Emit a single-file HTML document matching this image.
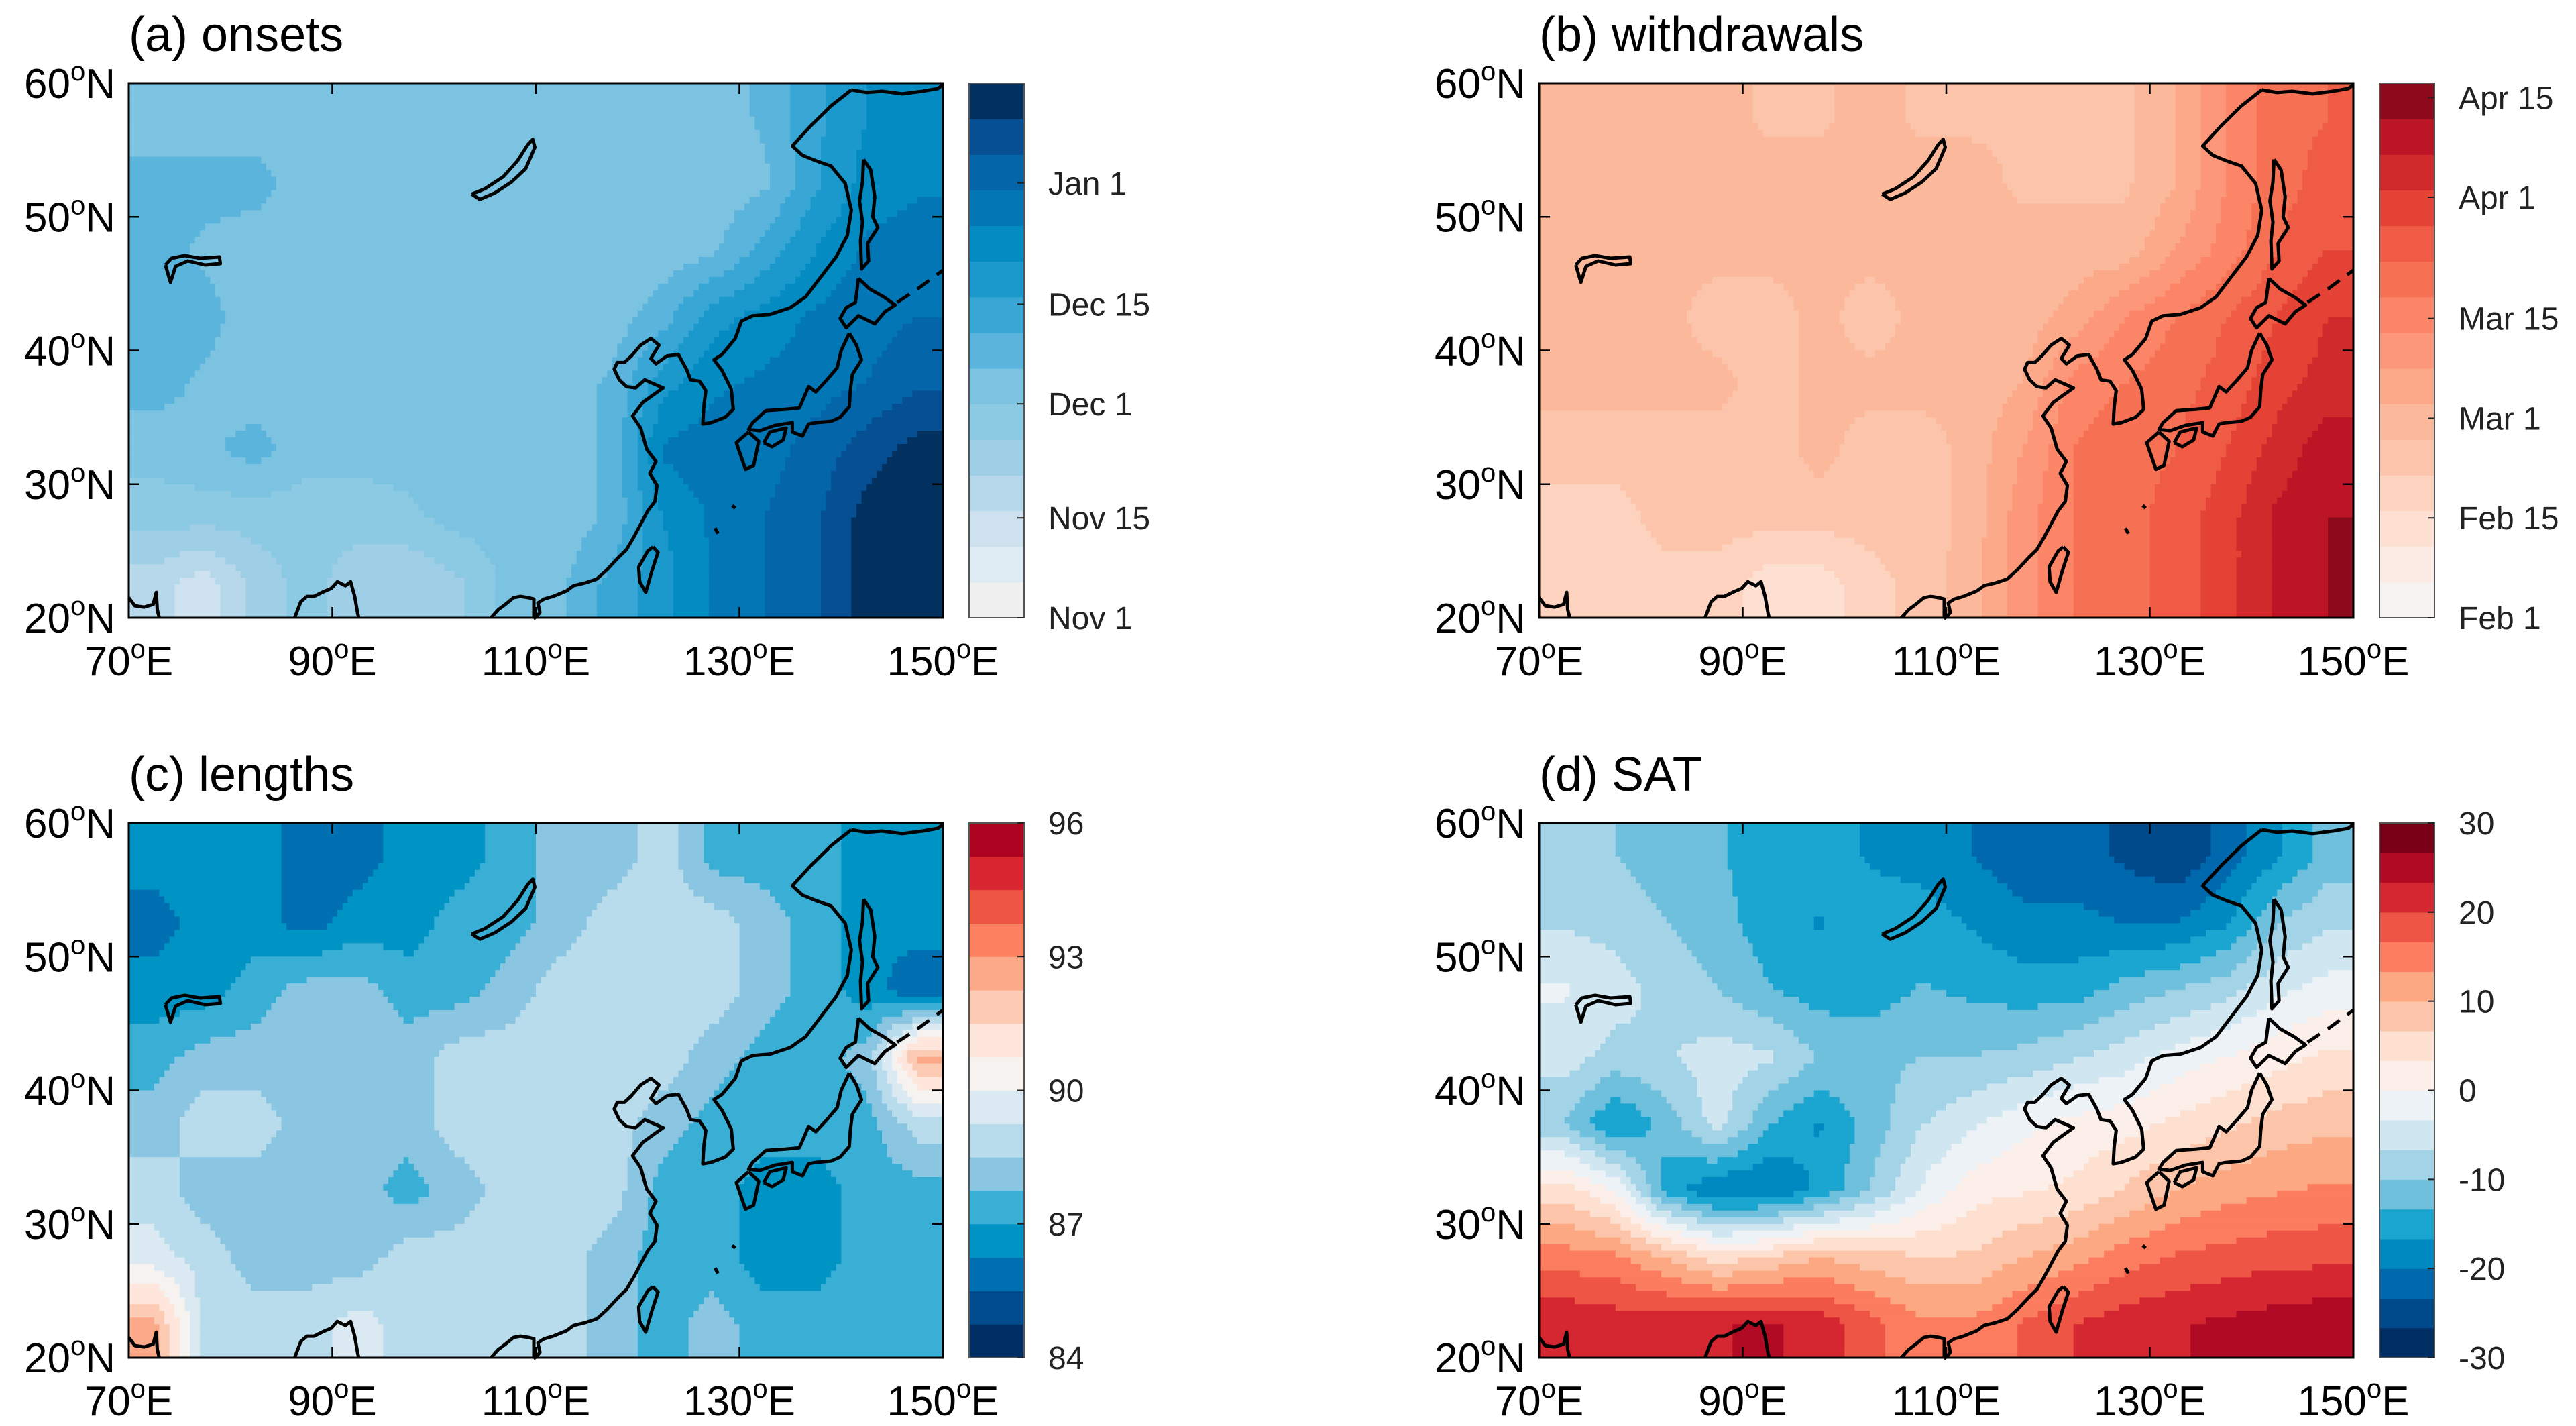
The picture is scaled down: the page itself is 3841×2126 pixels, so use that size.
<!DOCTYPE html>
<html><head><meta charset="utf-8"><style>
html,body{margin:0;padding:0;background:#fff;}
svg{display:block;font-family:"Liberation Sans",Arial,sans-serif;}
</style></head><body>
<svg id="fig" width="3841" height="2126" viewBox="0 0 3841 2126" xmlns="http://www.w3.org/2000/svg"></svg>
<script>
// ---- data (rows: lat 57.5 -> 22.5 ; cols: lon 72.5 -> 147.5, 5 deg grid) ----
const lonCenters = [72.5,77.5,82.5,87.5,92.5,97.5,102.5,107.5,112.5,117.5,122.5,127.5,132.5,137.5,142.5,147.5];
const latCenters = [57.5,52.5,47.5,42.5,37.5,32.5,27.5,22.5];
// (a) onset, days after Nov 1
const onsetValues = [
[32,32,32,32,32,32,32,32,32,32,32,32,36,44,50,52],
[37,37,37,32,32,32,32,32,32,32,32,32,34,44,52,54],
[37,34,32,32,32,32,32,32,32,32,32,34,42,50,56,58],
[37,37,32,32,32,32,32,32,32,32,38,48,52,56,58,60],
[37,34,32,32,32,32,32,32,32,36,48,54,56,58,60,64],
[32,34,37,32,32,32,32,32,32,36,56,58,58,62,68,72],
[27,27,27,27,27,29,32,32,32,36,50,56,60,64,72,74],
[17,12,22,27,22,20,24,32,34,42,48,56,60,64,72,74]];
// (b) withdrawal, days after Feb 1
const withdrawValues = [
[27,27,27,27,24,24,27,24,24,24,24,24,30,40,48,50],
[27,27,27,27,27,27,27,27,27,24,24,24,30,40,48,52],
[27,27,27,27,27,27,27,27,27,27,27,27,35,42,50,55],
[27,27,27,22,22,27,22,27,27,27,32,40,45,50,55,60],
[27,27,27,27,22,27,27,27,27,30,42,45,48,52,58,62],
[22,22,22,22,22,27,22,22,27,35,45,48,50,55,62,68],
[18,18,22,22,22,22,22,22,27,38,45,48,52,58,66,70],
[18,15,18,18,12,12,18,22,28,38,45,48,52,58,66,70]];
// (c) lengths, days
const lengthValues = [
[86.6,86.6,86.6,85.9,85.9,86.6,86.6,87.4,88.1,88.1,88.9,87.4,87.4,87.4,86.6,86.6],
[85.9,86.6,86.6,85.9,86.6,86.6,87.4,87.4,88.1,88.9,88.9,88.9,88.1,87.4,86.6,86.6],
[86.6,86.6,87.4,88.1,88.1,87.4,87.4,88.1,88.9,88.9,88.9,88.9,88.1,87.4,86.6,85.6],
[87.4,88.1,88.1,88.1,88.1,88.1,88.9,88.9,88.9,88.9,88.9,88.1,87.4,87.4,88.1,92.5],
[88.1,88.9,88.9,88.1,88.1,88.1,88.9,88.9,88.9,88.9,88.1,87.4,87.4,87.4,87.4,88.9],
[88.9,88.1,88.1,88.1,88.1,87.4,88.1,88.9,88.9,88.9,87.4,87.4,86.6,86.6,87.4,87.4],
[89.6,88.9,88.1,88.1,88.1,88.9,88.9,88.9,88.9,88.1,87.4,87.4,86.6,86.6,87.4,87.4],
[92.5,88.9,88.9,88.9,89.6,88.9,88.9,88.9,88.9,88.1,87.4,88.1,87.4,87.4,87.4,87.4]];
// (d) SAT
const satValues = [
[-10,-10,-12,-13,-15,-15,-17,-18,-20,-22,-22,-24,-26,-22,-17,-12],
[-7,-8,-10,-12,-15,-17,-15,-15,-17,-19,-19,-20,-20,-17,-10,-7],
[-3,-5,-8,-10,-13,-15,-15,-13,-14,-15,-15,-12,-10,-8,-4,-2],
[-5,-8,-7,-5,-6,-10,-11,-10,-10,-9,-7,-5,-2,0,2,4],
[-10,-17,-12,-5,-13,-17,-12,-7,-4,-1,1,2,4,6,8,9],
[5,0,-15,-20,-20,-16,-10,-3,2,3,4,7,10,12,13,14],
[15,14,10,5,7,10,8,7,7,10,12,15,17,18,19,19],
[23,22,22,23,24,22,18,14,14,17,20,22,23,24,25,26]];
const onsetTickVals = [0,14,30,44,61];
const onsetTickLabels = ["Nov 1","Nov 15","Dec 1","Dec 15","Jan 1"];
const withdrawTickVals = [0,14,28,42,59,73];
const withdrawTickLabels = ["Feb 1","Feb 15","Mar 1","Mar 15","Apr 1","Apr 15"];
const lengthTickVals = [84,87,90,93,96];
const lengthTickLabels = ["84","87","90","93","96"];
const satTickVals = [-30,-20,-10,0,10,20,30];
const satTickLabels = ["-30","-20","-10","0","10","20","30"];
const lonTicks = [70,90,110,130,150];
const latTicks = [20,30,40,50,60];

// ---- styles ----
const blues15 = ['#f0f0f0','#deebf2','#cde2ee','#b6d8ea','#9fcfe6','#8ccae4','#7bc3e0','#5ab4db','#38a7d5','#1c99cc','#048bc2','#0377b6','#0465a8','#054f92','#02305f'];
const reds15 = ['#f5f3f2','#fbebe4','#fde0d2','#fdd3bf','#fcc5ab','#fcb89b','#fca98a','#fc9779','#fb8566','#f67154','#ef5b45','#e34235','#d12a2c','#bb1526','#8c0a1c'];
const rdbu16 = ['#002d62','#004b8e','#0070b3','#0094c4','#3aafd5','#8ac6e2','#b8dcec','#dbeaf2','#f6f2f0','#fee6dc','#fdcbb3','#fca98a','#fb8161','#ef5543','#d7262f','#ad0521'];
const rdbu18 = ['#002d62','#004a8c','#0068ad','#0088c0','#1aa6d1','#6ec0dd','#a3d3e6','#d0e6f0','#ecf2f5','#fcefe9','#fde0d0','#fcc4a8','#fca883','#fb7c5e','#ee5544','#d52731','#b10a24','#7a0017'];

const NS = 'http://www.w3.org/2000/svg';
const svg = document.getElementById('fig');
function el(tag, attrs, parent){ const e=document.createElementNS(NS,tag); for(const k in attrs) e.setAttribute(k,attrs[k]); (parent||svg).appendChild(e); return e; }

const MW = 1214, MH = 797;
const coast = {
 mainland:[[141,59.5],[139,58.3],[137,56.8],[135.2,55.3],[136.2,54.6],[137.5,54.2],[139,53.8],[140.4,52.5],[141,50.5],[140.6,48.6],[139.5,47],[138,45.5],[136.5,44],[135,43.2],[133,42.7],[131.3,42.6],[130.2,42.2],[129.6,40.9],[128.3,39.7],[127.5,39.3],[128.3,38.5],[129.2,37.1],[129.4,35.6],[128.6,35],[127.2,34.6],[126.4,34.5],[126.5,35.8],[126.7,37],[126.1,37.7],[125.2,37.8],[124.8,38.6],[124,39.7],[122.9,39.6],[121.8,39],[121.3,39.4],[122.1,40.4],[121.3,40.9],[120.3,40.4],[119.4,39.6],[118.7,39.1],[118,39.1],[117.7,38.6],[118.2,37.8],[118.9,37.3],[119.8,37.2],[120.7,37.8],[121.6,37.5],[122.5,37.2],[121.4,36.6],[120.5,36.1],[119.5,35.1],[120.3,34.2],[120.9,32.6],[121.8,31.7],[121.2,30.8],[121.9,29.9],[121.7,28.7],[121,28],[120.3,27],[119.6,26],[118.9,25.1],[118.1,24.5],[117,23.6],[116,22.9],[114.8,22.6],[113.7,22.4],[113,22],[111.7,21.6],[110.8,21.4],[110.2,21.1],[110.4,20.4],[110,20]],
 okhotsk:[[141,59.5],[142.5,59.3],[144,59.4],[146,59.2],[148,59.4],[149.5,59.6],[150,59.9]],
 sakhalin:[[142.2,54.3],[142.9,53.5],[143.3,51.5],[143.1,50],[143.6,49.2],[142.6,48],[142.7,46.7],[142,46.1],[141.9,48.2],[142.1,49.6],[141.8,51.2],[142.1,52.6],[142.2,54.3]],
 hokkaido:[[141.7,45.4],[142.8,44.6],[144.2,44],[145.3,43.4],[144.3,42.9],[143.3,42],[141.7,42.6],[140.5,41.7],[139.9,42.4],[140.5,43.2],[141.4,43.6],[141.7,45.4]],
 honshu:[[140.8,41.3],[141.5,40.4],[142,39.3],[141.1,38.2],[140.9,37],[140.8,35.8],[139.9,35],[139,34.7],[137.5,34.6],[136.8,34.5],[136.2,33.6],[135.2,33.9],[135.2,34.6],[133.5,34.4],[132,34],[130.9,34.1],[131.3,34.6],[132.6,35.5],[134.5,35.6],[135.9,35.7],[136.8,37.3],[137.5,36.9],[138.6,37.8],[139.6,38.7],[140,40],[140.8,41.3]],
 kyushu:[[130.9,33.9],[131.9,33.2],[131.4,31.4],[130.6,31.1],[130.2,32],[129.7,33.1],[130.9,33.9]],
 shikoku:[[132.4,33.1],[133,33.9],[134.6,34.2],[134.3,33.3],[133.2,32.8],[132.4,33.1]],
 taiwan:[[121.5,25.3],[122,24.9],[121.4,23.5],[120.8,21.9],[120.2,22.7],[120.1,23.8],[121,25],[121.5,25.3]],
 baikal:[[103.7,51.7],[105,52.1],[106.8,53],[108.2,54.2],[109.2,55.4],[109.7,55.8],[109.9,55.2],[109,53.6],[107.6,52.6],[106,51.8],[104.5,51.3],[103.7,51.7]],
 balkhash:[[73.6,46.4],[74.2,46.9],[75.5,47.1],[77,46.9],[78.9,47],[79,46.5],[77.5,46.4],[75.8,46.7],[74.6,46.3],[74.1,45.1],[73.6,46.4]],
 india1:[[70,21.5],[70.6,20.9],[71.5,20.8],[72.4,21],[72.7,21.9],[72.8,20.6],[73,20]],
 bengal:[[86.3,20],[86.9,21.2],[87.5,21.6],[88.2,21.6],[89,21.9],[89.9,22.2],[90.5,22.7],[91.3,22.4],[91.8,22.7],[92.2,21.6],[92.5,20.3],[92.6,20]],
 tonkin:[[105.6,20],[106.3,20.6],[107,21],[107.8,21.5],[108.5,21.6],[109.3,21.5],[109.8,21.4],[109.8,20.1],[110,19.9]],
 ryukyu1:[[129.3,28.4],[129.6,28.2]],
 ryukyu2:[[127.6,26.7],[127.9,26.3]]
};
const kuril = [[145.5,43.6],[147.5,44.6],[150,46]];

function drawPanel(cfg){
  const g = el('g',{});  
  const L=cfg.x, T=cfg.y;
  const xs = lon => L + (lon-70)/80*MW;
  const ys = lat => T + (60-lat)/40*MH;
  const vmin=cfg.vmin, vmax=cfg.vmax, n=cfg.colors.length;
  const colorOf = v => { let i=Math.floor((v-vmin)/(vmax-vmin)*n); i=Math.max(0,Math.min(n-1,i)); return cfg.colors[i]; };
  const vals=cfg.values;
  function sample(lon,lat){
    let fi=(lon-lonCenters[0])/5; fi=Math.max(0,Math.min(lonCenters.length-1,fi));
    let fj=(latCenters[0]-lat)/5; fj=Math.max(0,Math.min(latCenters.length-1,fj));
    const i0=Math.min(Math.floor(fi),lonCenters.length-2), j0=Math.min(Math.floor(fj),latCenters.length-2);
    const tx=fi-i0, ty=fj-j0;
    const a=vals[j0][i0],b=vals[j0][i0+1],c=vals[j0+1][i0],d=vals[j0+1][i0+1];
    return a*(1-tx)*(1-ty)+b*tx*(1-ty)+c*(1-tx)*ty+d*tx*ty;
  }
  const field = el('g',{},g);  
  const step=0.5, nx=80/step, ny=40/step;
  for(let j=0;j<ny;j++){
    const lat=60-(j+0.5)*step;
    let start=0, cur=colorOf(sample(70+step/2,lat));
    for(let i=1;i<=nx;i++){
      const c = i<nx ? colorOf(sample(70+(i+0.5)*step,lat)) : null;
      if(c!==cur){
        const x0=xs(70+start*step), x1=xs(70+i*step), y0=ys(60-j*step), y1=ys(60-(j+1)*step);
        const r=el('rect',{x:x0.toFixed(1),y:y0.toFixed(1),width:(x1-x0+0.8).toFixed(1),height:(y1-y0+0.8).toFixed(1),fill:cur},field);
        
        
        start=i; cur=c;
      }
    }
  }
  const cg = el('g',{fill:'none',stroke:'#000','stroke-width':5,'stroke-linejoin':'round'},g);
   
  for(const k in coast){
    const p=el('path',{d:'M'+coast[k].map(q=>xs(q[0]).toFixed(1)+','+ys(q[1]).toFixed(1)).join('L')},cg);
    
    
  }
  const kp=el('path',{d:'M'+kuril.map(q=>xs(q[0]).toFixed(1)+','+ys(q[1]).toFixed(1)).join('L'),'stroke-dasharray':'22 14'},cg);
  
  
  const fr=el('rect',{x:L,y:T,width:MW,height:MH,fill:'none',stroke:'#000','stroke-width':3},g);
   
  lonTicks.forEach(lon=>{
    el('line',{x1:xs(lon),x2:xs(lon),y1:T,y2:T+16,stroke:'#000','stroke-width':2.5},g);
    el('line',{x1:xs(lon),x2:xs(lon),y1:T+MH,y2:T+MH-16,stroke:'#000','stroke-width':2.5},g);
    const t=el('text',{x:xs(lon),y:T+MH+86,'font-size':62,'text-anchor':'middle',fill:'#000'},g);
     
    t.innerHTML=lon+'<tspan font-size="40" dy="-26">o</tspan><tspan dy="26">E</tspan>';
  });
  latTicks.forEach(lat=>{
    el('line',{x1:L,x2:L+16,y1:ys(lat),y2:ys(lat),stroke:'#000','stroke-width':2.5},g);
    el('line',{x1:L+MW,x2:L+MW-16,y1:ys(lat),y2:ys(lat),stroke:'#000','stroke-width':2.5},g);
    const t=el('text',{x:L-20,y:ys(lat)+22,'font-size':62,'text-anchor':'end',fill:'#000'},g);
     
    t.innerHTML=(lat)+'<tspan font-size="40" dy="-26">o</tspan><tspan dy="26">N</tspan>';
  });
  const tt=el('text',{x:L,y:T-48,'font-size':72,fill:'#000'},g);
   
  tt.textContent=cfg.title;
  const cb=el('g',{},g);  
  const CX=L+1253, CW=82, segH=MH/n;
  cfg.colors.forEach((c,i)=>{
    const r=el('rect',{x:CX,y:(T+MH-(i+1)*segH).toFixed(1),width:CW,height:(segH+0.6).toFixed(1),fill:c},cb);
     
  });
  el('rect',{x:CX,y:T,width:CW,height:MH,fill:'none',stroke:'#555','stroke-width':2},cb);
  const cy = v => T+MH-(v-vmin)/(vmax-vmin)*MH;
  cfg.tickVals.forEach((v,i)=>{
    el('line',{x1:CX+CW-10,x2:CX+CW,y1:cy(v),y2:cy(v),stroke:'#222','stroke-width':2},cb);
    const t=el('text',{x:CX+CW+36,y:cy(v)+17,'font-size':48,fill:'#222'},cb);
     
    t.textContent=cfg.tickLabels[i];
  });
}
drawPanel({name:'onsets',title:'(a) onsets',x:192,y:124,values:onsetValues,vmin:0,vmax:75,colors:blues15,tickVals:onsetTickVals,tickLabels:onsetTickLabels});
drawPanel({name:'withdrawals',title:'(b) withdrawals',x:2295,y:124,values:withdrawValues,vmin:0,vmax:75,colors:reds15,tickVals:withdrawTickVals,tickLabels:withdrawTickLabels});
drawPanel({name:'lengths',title:'(c) lengths',x:192,y:1227,values:lengthValues,vmin:84,vmax:96,colors:rdbu16,tickVals:lengthTickVals,tickLabels:lengthTickLabels});
drawPanel({name:'sat',title:'(d) SAT',x:2295,y:1227,values:satValues,vmin:-30,vmax:30,colors:rdbu18,tickVals:satTickVals,tickLabels:satTickLabels});
</script>
</body></html>
